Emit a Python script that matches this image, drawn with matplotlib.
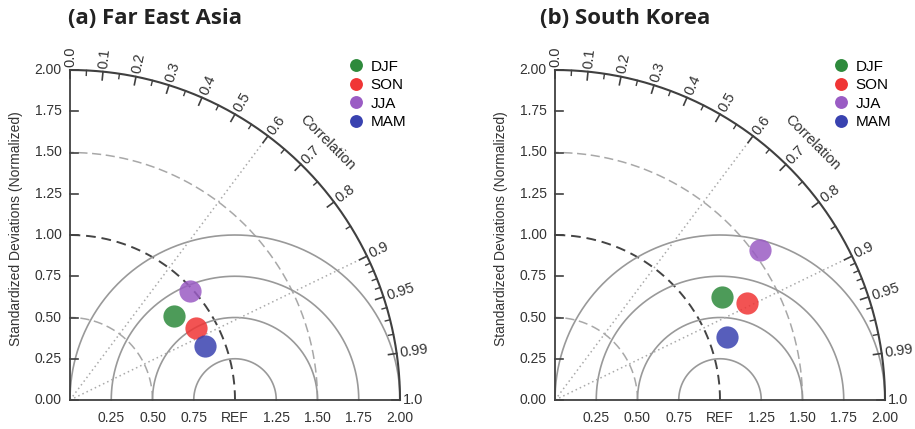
import numpy as np
import matplotlib
matplotlib.use("Agg")
import matplotlib.pyplot as plt

plt.rcParams['font.family'] = ['Liberation Sans', 'DejaVu Sans']

seasons = ['DJF', 'SON', 'JJA', 'MAM']
colors = ['#2e8a3c', '#f03535', '#9a5cc4', '#3942b0']

# normalized standard deviation and correlation
std_fea = [0.81, 0.88, 0.98, 0.88]
corr_fea = [0.775, 0.870, 0.741, 0.927]
std_kor = [1.19, 1.30, 1.54, 1.11]
corr_kor = [0.850, 0.893, 0.808, 0.938]

corr_major = [0.0, 0.1, 0.2, 0.3, 0.4, 0.5, 0.6, 0.7, 0.8, 0.9, 0.95, 0.99, 1.0]
corr_major_labels = ['0.0', '0.1', '0.2', '0.3', '0.4', '0.5', '0.6', '0.7',
                     '0.8', '0.9', '0.95', '0.99', '1.0']
corr_minor = [0.05, 0.15, 0.25, 0.35, 0.45, 0.55, 0.65, 0.75, 0.85,
              0.91, 0.92, 0.93, 0.94, 0.96, 0.97, 0.98]
std_ticks = [0.0, 0.25, 0.5, 0.75, 1.0, 1.25, 1.5, 1.75, 2.0]
y_labels = ['0.00', '0.25', '0.50', '0.75', '1.00', '1.25', '1.50', '1.75', '2.00']
x_labels = ['', '0.25', '0.50', '0.75', 'REF', '1.25', '1.50', '1.75', '2.00']

W, H = 915, 429
fig = plt.figure(figsize=(W / 100, H / 100), dpi=100)
PX = 165.0  # pixels per unit


def make_ax(ox):
    # origin of diagram at pixel (ox, 400 from top)
    x0, x1, y0, y1 = -0.2, 2.3, -0.1, 2.3
    left = ox + x0 * PX
    bottom = (H - 400) + y0 * PX
    ax = fig.add_axes([left / W, bottom / H, (x1 - x0) * PX / W, (y1 - y0) * PX / H])
    ax.set_xlim(x0, x1)
    ax.set_ylim(y0, y1)
    ax.set_axis_off()
    return ax


def taylor(ax, std, corr, title, ox):
    frame = '#404040'
    t = np.linspace(0, np.pi / 2, 400)
    # standard deviation arcs (dashed)
    for r in [0.5, 1.0, 1.5]:
        if r == 1.0:
            ax.plot(r * np.cos(t), r * np.sin(t), color='#444444', lw=1.4, ls=(0, (5, 3)))
        else:
            ax.plot(r * np.cos(t), r * np.sin(t), color='#a8a8a8', lw=1.1, ls=(0, (6, 3)))
    # RMS arcs around REF
    t2 = np.linspace(0, np.pi, 400)
    for r in [0.25, 0.5, 0.75, 1.0]:
        ax.plot(1 + r * np.cos(t2), r * np.sin(t2), color='#999999', lw=1.2)
    # radial dotted lines
    for c in [0.6, 0.9]:
        a = np.arccos(c)
        ax.plot([0, 2 * np.cos(a)], [0, 2 * np.sin(a)], color='#aaaaaa', lw=1.1, ls=(0, (1, 2)))
    # frame
    ax.plot(2 * np.cos(t), 2 * np.sin(t), color=frame, lw=1.5)
    ax.plot([0, 0], [0, 2], color=frame, lw=1.3)
    ax.plot([0, 2], [0, 0], color=frame, lw=1.3)
    # correlation ticks
    for c, lab in zip(corr_major, corr_major_labels):
        a = np.arccos(c)
        ax.plot([1.95 * np.cos(a), 2 * np.cos(a)], [1.95 * np.sin(a), 2 * np.sin(a)],
                color=frame, lw=1.2)
        ax.text(2.02 * np.cos(a), 2.02 * np.sin(a), lab, rotation=np.degrees(a),
                rotation_mode='anchor', ha='left', va='center', fontsize=10.5, color='#333333')
    for c in corr_minor:
        a = np.arccos(c)
        ax.plot([1.97 * np.cos(a), 2 * np.cos(a)], [1.97 * np.sin(a), 2 * np.sin(a)],
                color=frame, lw=1.0)
    ax.text(1.56, 1.56, 'Correlation', rotation=-45, ha='center', va='center',
            fontsize=10.5, color='#333333')
    # std ticks
    for s, lab in zip(std_ticks, y_labels):
        ax.plot([0, 0.05], [s, s], color=frame, lw=1.2)
        ax.text(-0.05, s, lab, ha='right', va='center', fontsize=10, color='#333333')
    for s, lab in zip(std_ticks, x_labels):
        ax.text(s, -0.11, lab, ha='center', va='center', fontsize=10, color='#333333')
    ax.text(-0.327, 1.04, 'Standardized Deviations (Normalized)', rotation=90,
            ha='center', va='center', fontsize=10, color='#333333')
    # points
    for s, c, name, col in zip(std, corr, seasons, colors):
        a = np.arccos(c)
        ax.plot(s * np.cos(a), s * np.sin(a), 'o', ms=16, color=col, alpha=0.85,
                mec='none', label=name, zorder=5)
    leg = ax.legend(loc='upper left', bbox_to_anchor=(1.64, 2.1),
                    bbox_transform=ax.transData, frameon=False, fontsize=11,
                    markerscale=0.58, labelspacing=0.3, handletextpad=0.35,
                    handlelength=1.2, borderaxespad=0)
    for h in leg.legend_handles:
        h.set_alpha(1)
    fig.text((ox - 2) / W, 1 - 18 / H, title, fontsize=16, fontweight='bold',
             family='Open Sans', ha='left', va='center', color='#222222')


ax1 = make_ax(70)
taylor(ax1, std_fea, corr_fea, '(a) Far East Asia', 70)
ax2 = make_ax(555)
taylor(ax2, std_kor, corr_kor, '(b) South Korea', 542)

fig.savefig('out.png', dpi=100)
